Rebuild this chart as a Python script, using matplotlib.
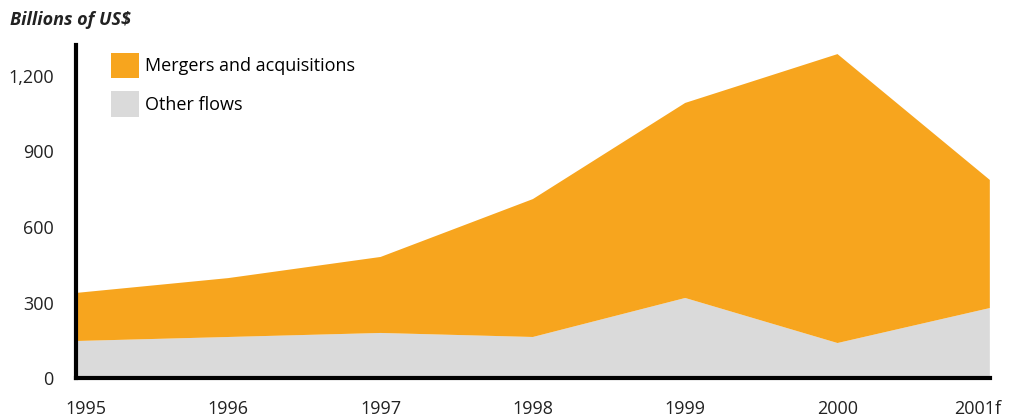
import matplotlib
matplotlib.use("Agg")
from matplotlib import pyplot as plt
from matplotlib.patches import Patch
from matplotlib.transforms import ScaledTranslation

years = [1995, 1996, 1997, 1998, 1999, 2000, 2001]
year_labels = ['1995', '1996', '1997', '1998', '1999', '2000', '2001f']
other_flows = [147, 163, 179, 163, 318, 139, 278]
mergers = [191, 234, 302, 548, 775, 1148, 509]

orange = '#F7A51E'
grey = '#DADADA'

plt.rcParams['font.family'] = ['Open Sans', 'DejaVu Sans']

fig = plt.figure(figsize=(10.09, 4.17), dpi=100)
ax = fig.add_axes([0.0753, 0.0935, 0.9057, 0.7985])

ax.stackplot(years, other_flows, mergers, colors=[grey, orange], linewidth=0)

ax.set_xlim(1995, 2001)
ax.set_ylim(0, 1323)
ax.set_yticks([0, 300, 600, 900, 1200])
ax.set_yticklabels(['0', '300', '600', '900', '1,200'])
ax.set_xticks(years)
ax.set_xticklabels(year_labels)
ax.tick_params(length=0, labelsize=13, colors='#222222')
ax.tick_params(axis='x', pad=16)
ax.tick_params(axis='y', pad=16)
# nudge the end labels inwards like the original
lbls = ax.get_xticklabels()
lbls[0].set_transform(lbls[0].get_transform() + ScaledTranslation(0.10, 0, fig.dpi_scale_trans))
lbls[-1].set_transform(lbls[-1].get_transform() + ScaledTranslation(-0.12, 0, fig.dpi_scale_trans))

for s in ['top', 'right']:
    ax.spines[s].set_visible(False)
for s in ['left', 'bottom']:
    ax.spines[s].set_linewidth(3)
    ax.spines[s].set_color('black')

handles = [Patch(facecolor=orange, edgecolor='none', label='Mergers and acquisitions'),
           Patch(facecolor=grey, edgecolor='none', label='Other flows')]
fig.legend(handles=handles, loc='upper left', bbox_to_anchor=(0.094, 0.913),
           frameon=False, fontsize=13, handlelength=1.55, handleheight=1.8,
           handletextpad=0.35, labelspacing=0.72)

fig.text(0.01, 0.952, 'Billions of US$', fontsize=13, fontweight='bold',
         fontstyle='italic', va='center', ha='left', color='#222222')

fig.savefig('out.png', dpi=100)
